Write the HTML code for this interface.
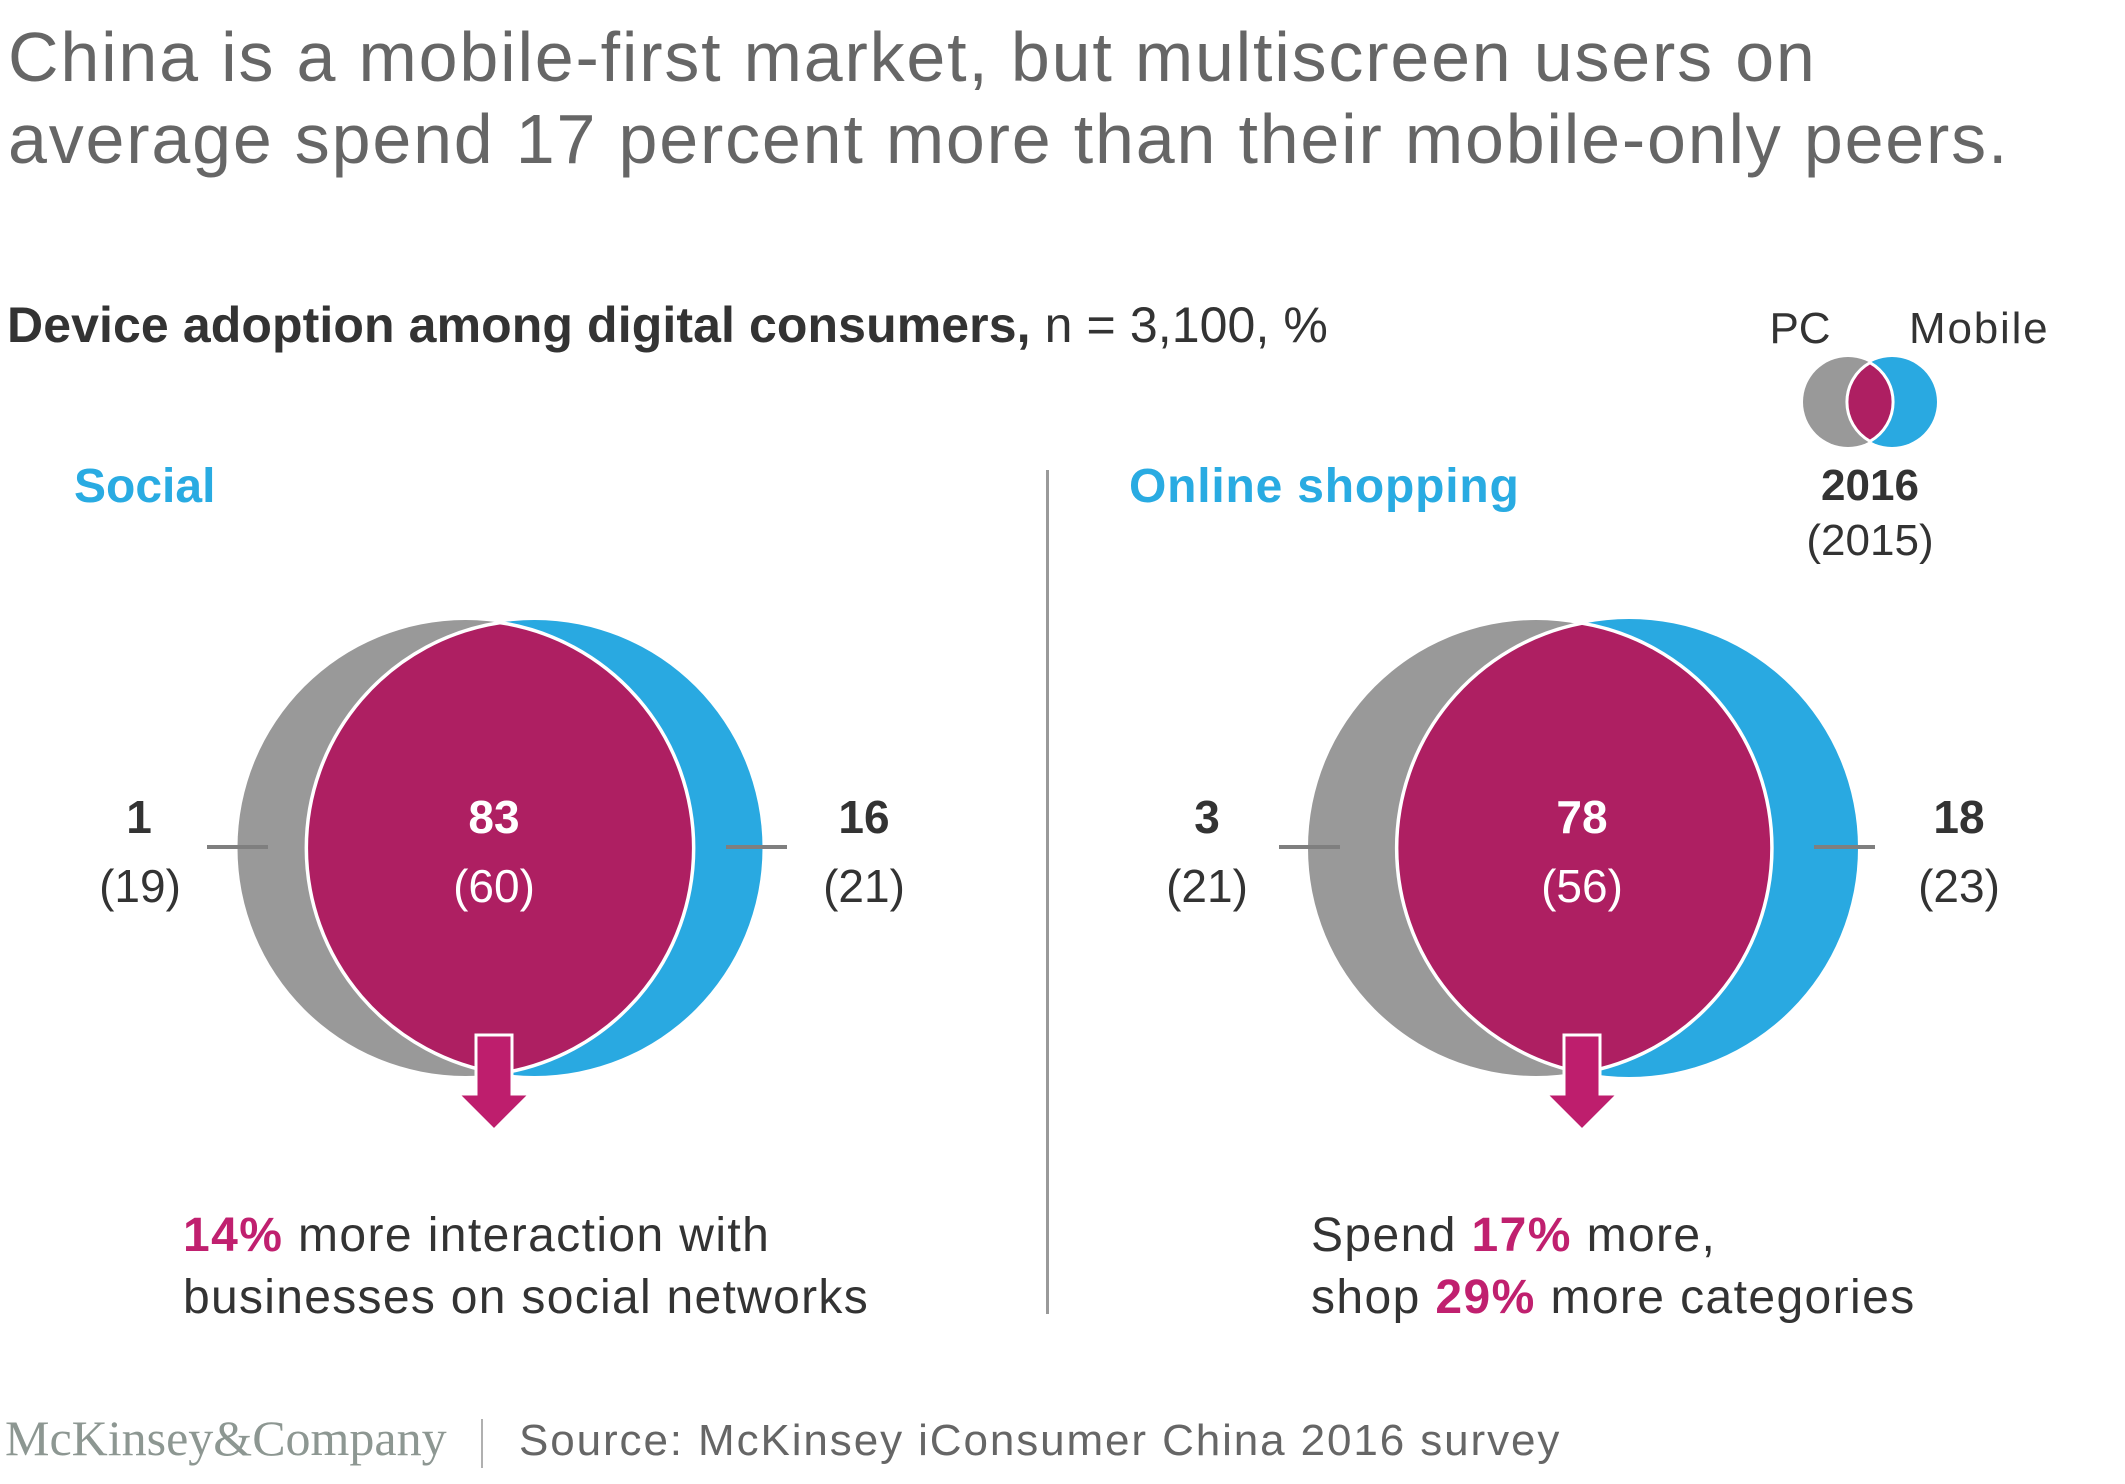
<!DOCTYPE html>
<html>
<head>
<meta charset="utf-8">
<style>
  html,body{margin:0;padding:0;background:#fff;}
  body{width:2125px;height:1484px;overflow:hidden;}
  svg{display:block;}
  .sans{font-family:"Liberation Sans", Arial, sans-serif;}
  .serif{font-family:"Liberation Serif", "Times New Roman", serif;}
</style>
</head>
<body>
<svg width="2125" height="1484" viewBox="0 0 2125 1484" xmlns="http://www.w3.org/2000/svg">
  <rect width="2125" height="1484" fill="#ffffff"/>

  <!-- Title -->
  <text class="sans" x="8" y="81" font-size="70" letter-spacing="1.8" fill="#666666">China is a mobile-first market, but multiscreen users on</text>
  <text class="sans" x="8" y="163" font-size="70" letter-spacing="1.8" fill="#666666">average spend 17 percent more than their mobile-only peers.</text>

  <!-- Subtitle -->
  <text class="sans" x="7" y="342" font-size="50" letter-spacing="0.1" fill="#333333"><tspan font-weight="bold">Device adoption among digital consumers,</tspan> n = 3,100, %</text>

  <!-- Legend -->
  <text class="sans" x="1800" y="343" font-size="44" fill="#333333" text-anchor="middle">PC</text>
  <text class="sans" x="1909" y="343" font-size="44" letter-spacing="1.8" fill="#333333">Mobile</text>
  <circle cx="1848" cy="402" r="45" fill="#999999"/>
  <circle cx="1892" cy="402" r="45" fill="#29a9e1"/>
  <path d="M1870 362.7 A45 45 0 0 1 1870 441.3 A45 45 0 0 1 1870 362.7 Z" fill="#ae1f62" stroke="#ffffff" stroke-width="3"/>
  <text class="sans" x="1870" y="500" font-size="44" font-weight="bold" fill="#333333" text-anchor="middle">2016</text>
  <text class="sans" x="1870" y="555" font-size="44" fill="#333333" text-anchor="middle">(2015)</text>

  <!-- Section headings -->
  <text class="sans" x="74" y="502" font-size="48" font-weight="bold" fill="#29abe2">Social</text>
  <text class="sans" x="1129" y="502" font-size="48" font-weight="bold" letter-spacing="0.8" fill="#29abe2">Online shopping</text>

  <!-- Divider -->
  <rect x="1046" y="470" width="3" height="844" fill="#9a9a9a"/>

  <!-- LEFT VENN -->
  <circle cx="465.5" cy="848" r="228" fill="#999999"/>
  <circle cx="534.5" cy="848" r="228" fill="#29a9e1"/>
  <path d="M500 622.6 A228 228 0 0 1 500 1073.4 A228 228 0 0 1 500 622.6 Z" fill="#ae1f62" stroke="#ffffff" stroke-width="3.5"/>
  <rect x="207" y="845" width="61" height="4" fill="#7f7f7f"/>
  <rect x="726" y="845" width="61" height="4" fill="#7f7f7f"/>
  <polygon points="476,1035 512,1035 512,1094 530,1094 494,1130 458,1094 476,1094" fill="#be1e6d" stroke="#ffffff" stroke-width="3"/>

  <text class="sans" x="139" y="833" font-size="46" font-weight="bold" fill="#333333" text-anchor="middle">1</text>
  <text class="sans" x="140" y="902" font-size="46" fill="#333333" text-anchor="middle">(19)</text>
  <text class="sans" x="494" y="833" font-size="46" font-weight="bold" fill="#ffffff" text-anchor="middle">83</text>
  <text class="sans" x="494" y="902" font-size="46" fill="#ffffff" text-anchor="middle">(60)</text>
  <text class="sans" x="864" y="833" font-size="46" font-weight="bold" fill="#333333" text-anchor="middle">16</text>
  <text class="sans" x="864" y="902" font-size="46" fill="#333333" text-anchor="middle">(21)</text>

  <!-- RIGHT VENN -->
  <circle cx="1536" cy="848" r="228" fill="#999999"/>
  <circle cx="1629" cy="848" r="229" fill="#29a9e1"/>
  <path d="M1582 623.2 A228 228 0 0 1 1582 1072.8 A229 229 0 0 1 1582 623.2 Z" fill="#ae1f62" stroke="#ffffff" stroke-width="3.5"/>
  <rect x="1279" y="845" width="61" height="4" fill="#7f7f7f"/>
  <rect x="1814" y="845" width="61" height="4" fill="#7f7f7f"/>
  <polygon points="1564,1035 1600,1035 1600,1094 1618,1094 1582,1130 1546,1094 1564,1094" fill="#be1e6d" stroke="#ffffff" stroke-width="3"/>

  <text class="sans" x="1207" y="833" font-size="46" font-weight="bold" fill="#333333" text-anchor="middle">3</text>
  <text class="sans" x="1207" y="902" font-size="46" fill="#333333" text-anchor="middle">(21)</text>
  <text class="sans" x="1582" y="833" font-size="46" font-weight="bold" fill="#ffffff" text-anchor="middle">78</text>
  <text class="sans" x="1582" y="902" font-size="46" fill="#ffffff" text-anchor="middle">(56)</text>
  <text class="sans" x="1959" y="833" font-size="46" font-weight="bold" fill="#333333" text-anchor="middle">18</text>
  <text class="sans" x="1959" y="902" font-size="46" fill="#333333" text-anchor="middle">(23)</text>

  <!-- Bottom texts -->
  <text class="sans" x="183" y="1251" font-size="48" letter-spacing="1.4" fill="#333333"><tspan font-weight="bold" fill="#c0206f">14%</tspan> more interaction with</text>
  <text class="sans" x="183" y="1313" font-size="48" letter-spacing="1.3" fill="#333333">businesses on social networks</text>

  <text class="sans" x="1311" y="1251" font-size="48" letter-spacing="1.4" fill="#333333">Spend <tspan font-weight="bold" fill="#c0206f">17%</tspan> more,</text>
  <text class="sans" x="1311" y="1313" font-size="48" letter-spacing="1.4" fill="#333333">shop <tspan font-weight="bold" fill="#c0206f">29%</tspan> more categories</text>

  <!-- Footer -->
  <text class="serif" x="5" y="1455" font-size="50" fill="#8d9792">McKinsey&amp;Company</text>
  <rect x="481" y="1419" width="2" height="49" fill="#b0b0b0"/>
  <text class="sans" x="519" y="1455" font-size="44" letter-spacing="1.9" fill="#666666">Source: McKinsey iConsumer China 2016 survey</text>
</svg>
</body>
</html>
